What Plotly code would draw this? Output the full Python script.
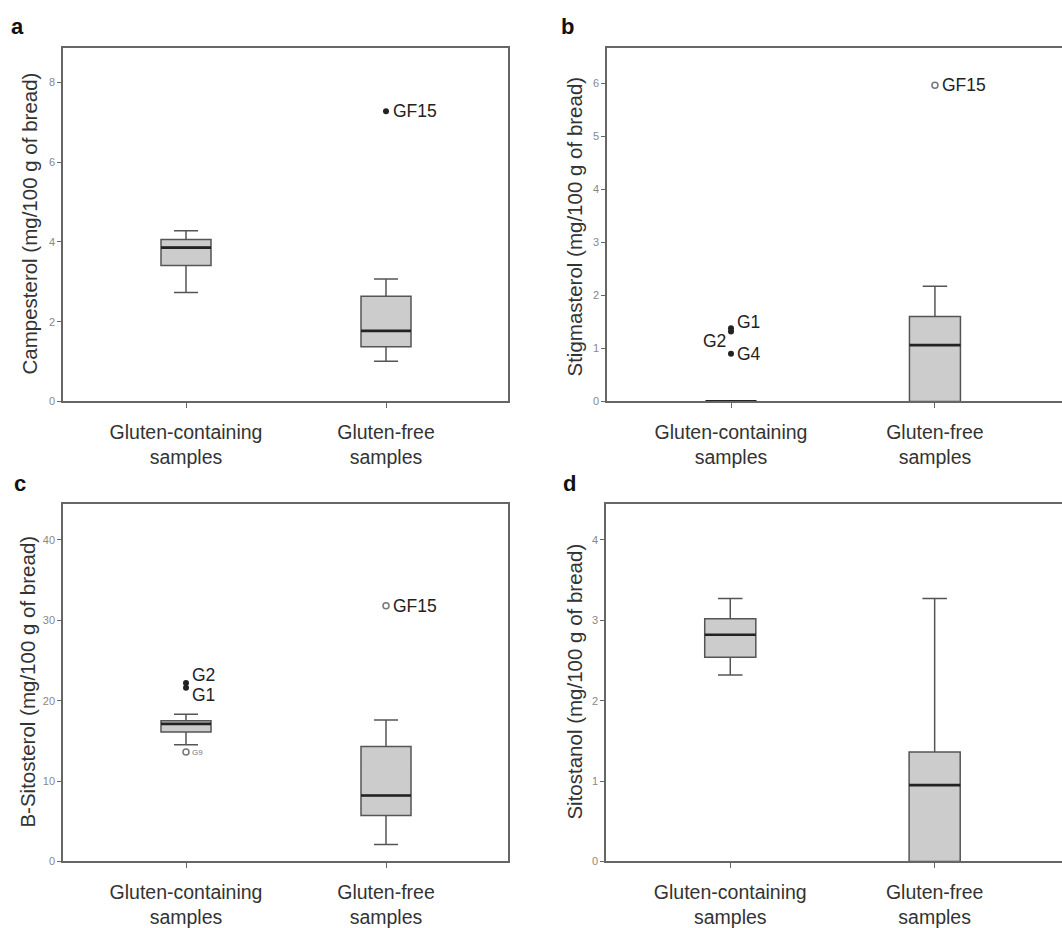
import plotly.graph_objects as go

W, H = 1062, 928

categories = ["Gluten-containing<br>samples", "Gluten-free<br>samples"]
positions = [0, 1]

# five-number summaries: [lower whisker, Q1, median, Q3, upper whisker] for [gluten-containing, gluten-free]
camp_lower = [2.73, 1.01]
camp_q1 = [3.41, 1.37]
camp_median = [3.86, 1.77]
camp_q3 = [4.06, 2.64]
camp_upper = [4.28, 3.07]

stig_lower = [0.0, 0.0]
stig_q1 = [0.0, 0.0]
stig_median = [0.0, 1.06]
stig_q3 = [0.0, 1.60]
stig_upper = [0.0, 2.17]

sito_lower = [14.5, 2.1]
sito_q1 = [16.1, 5.7]
sito_median = [17.1, 8.2]
sito_q3 = [17.5, 14.3]
sito_upper = [18.3, 17.6]

stan_lower = [2.32, 0.0]
stan_q1 = [2.54, 0.0]
stan_median = [2.82, 0.95]
stan_q3 = [3.02, 1.36]
stan_upper = [3.27, 3.27]

# outliers: label, group position, value, style
camp_out_labels = ["GF15"]
camp_out_group = [1]
camp_out_values = [7.28]
camp_out_filled = [True]

stig_out_labels = ["G1", "G2", "G4", "GF15"]
stig_out_group = [0, 0, 0, 1]
stig_out_values = [1.38, 1.32, 0.90, 5.96]
stig_out_filled = [True, True, True, False]

sito_out_labels = ["G2", "G1", "G9", "GF15"]
sito_out_group = [0, 0, 0, 1]
sito_out_values = [22.2, 21.6, 13.6, 31.8]
sito_out_filled = [True, True, False, False]

y_titles = ["Campesterol (mg/100 g of bread)", "Stigmasterol (mg/100 g of bread)",
            "B-Sitosterol (mg/100 g of bread)", "Sitostanol (mg/100 g of bread)"]
y_ranges = [[0, 8.875], [0, 6.67], [0, 44.5], [0, 4.45]]
y_dticks = [2, 1, 10, 1]
panel_letters = ["a", "b", "c", "d"]

FONT = "Arial, Liberation Sans, sans-serif"

fig = go.Figure()

# domains in pixels (left, right, top, bottom)
px_dom = [(63, 508, 48, 404), (607, 1062, 48, 404), (63, 508, 507, 867), (606, 1062, 507, 867)]
x_ranges = [[-0.615, 1.61], [-0.608, 1.623], [-0.615, 1.61], [-0.608, 1.623]]

stats = [
    (camp_lower, camp_q1, camp_median, camp_q3, camp_upper),
    (stig_lower, stig_q1, stig_median, stig_q3, stig_upper),
    (sito_lower, sito_q1, sito_median, sito_q3, sito_upper),
    (stan_lower, stan_q1, stan_median, stan_q3, stan_upper),
]
outliers = [
    (camp_out_labels, camp_out_group, camp_out_values, camp_out_filled),
    (stig_out_labels, stig_out_group, stig_out_values, stig_out_filled),
    (sito_out_labels, sito_out_group, sito_out_values, sito_out_filled),
    None,
]

# label placement tweaks (xanchor, xshift, yshift, size, color)
label_style = {
    (0, "GF15"): ("left", 5, 0, 17.5, "#222"),
    (1, "G1"): ("left", 4, 6, 17.5, "#222"),
    (1, "G2"): ("right", -3, -10, 17.5, "#222"),
    (1, "G4"): ("left", 4, 0, 17.5, "#222"),
    (1, "GF15"): ("left", 5, 0, 17.5, "#222"),
    (2, "G2"): ("left", 4, 8, 17.5, "#222"),
    (2, "G1"): ("left", 4, -7, 17.5, "#222"),
    (2, "G9"): ("left", 4, 0, 8, "#777"),
    (2, "GF15"): ("left", 5, 0, 17.5, "#222"),
}

annotations = []
for i in range(4):
    sfx = "" if i == 0 else str(i + 1)
    xa, ya = "x" + sfx, "y" + sfx
    lo, q1, med, q3, up = stats[i]
    fig.add_trace(go.Box(
        x=positions, q1=q1, median=med, q3=q3, lowerfence=lo, upperfence=up,
        width=0.25, whiskerwidth=0.48, fillcolor="#cccccc",
        line=dict(color="#555555", width=1.5), boxpoints=False,
        xaxis=xa, yaxis=ya, showlegend=False, hoverinfo="skip"))
    fig.add_trace(go.Box(
        x=positions, q1=med, median=med, q3=med, lowerfence=med, upperfence=med,
        width=0.25, whiskerwidth=0, fillcolor="rgba(0,0,0,0)",
        line=dict(color="#222222", width=2.7), boxpoints=False,
        xaxis=xa, yaxis=ya, showlegend=False, hoverinfo="skip"))
    if outliers[i] is not None:
        labs, grp, vals, filled = outliers[i]
        fx = [g for g, f in zip(grp, filled) if f]
        fy = [v for v, f in zip(vals, filled) if f]
        ox = [g for g, f in zip(grp, filled) if not f]
        oy = [v for v, f in zip(vals, filled) if not f]
        if fx:
            fig.add_trace(go.Scatter(x=fx, y=fy, mode="markers", xaxis=xa, yaxis=ya,
                                     marker=dict(size=6, color="#222222"),
                                     showlegend=False, hoverinfo="skip"))
        if ox:
            fig.add_trace(go.Scatter(x=ox, y=oy, mode="markers", xaxis=xa, yaxis=ya,
                                     marker=dict(size=6, color="white",
                                                 line=dict(color="#777777", width=1.5)),
                                     showlegend=False, hoverinfo="skip"))
        for lab, g, v in zip(labs, grp, vals):
            anc, xs, ys, sz, col = label_style[(i, lab)]
            annotations.append(dict(x=g, y=v, xref=xa, yref=ya, text=lab, showarrow=False,
                                    xanchor=anc, yanchor="middle", xshift=xs, yshift=ys,
                                    font=dict(size=sz, color=col, family=FONT)))

    l, r, t, b = px_dom[i]
    axis_common = dict(showline=True, linecolor="#666666", linewidth=1.5,
                       showgrid=False, zeroline=False, ticks="outside",
                       tickcolor="#666666")
    right_mirror = i in (0, 2)
    fig.update_layout(**{
        ("xaxis" + sfx): dict(domain=[l / W, r / W], range=x_ranges[i], anchor=ya,
                              tickvals=positions, ticktext=categories, ticklen=5,
                              ticklabelstandoff=7,
                              tickfont=dict(size=19.5, color="#333333", family=FONT),
                              mirror=True, **axis_common),
        ("yaxis" + sfx): dict(domain=[1 - b / H, 1 - t / H], range=y_ranges[i], anchor=xa,
                              dtick=y_dticks[i], tick0=0, ticklen=4,
                              tickfont=dict(size=11, color="#888888", family=FONT),
                              mirror=right_mirror, **axis_common),
    })

# y-axis titles and panel letters
title_pos = [(30, 225), (575, 228), (28, 686), (575, 686)]
letter_pos = [(17, 27), (567, 27), (20, 487), (569, 487)]
for i in range(4):
    tx, ty = title_pos[i]
    annotations.append(dict(x=tx / W, y=1 - ty / H, xref="paper", yref="paper",
                            text=y_titles[i], textangle=-90, showarrow=False,
                            xanchor="center", yanchor="middle",
                            font=dict(size=20.5, color="#333333", family=FONT)))
    lx, ly = letter_pos[i]
    annotations.append(dict(x=lx / W, y=1 - ly / H, xref="paper", yref="paper",
                            text="<b>" + panel_letters[i] + "</b>", showarrow=False,
                            xanchor="center", yanchor="middle",
                            font=dict(size=22, color="#111111", family=FONT)))

fig.update_layout(width=W, height=H, margin=dict(l=0, r=0, t=0, b=0),
                  paper_bgcolor="white", plot_bgcolor="white",
                  boxmode="overlay", annotations=annotations,
                  font=dict(family=FONT))

fig.write_html("out.html", config={"displayModeBar": False})
